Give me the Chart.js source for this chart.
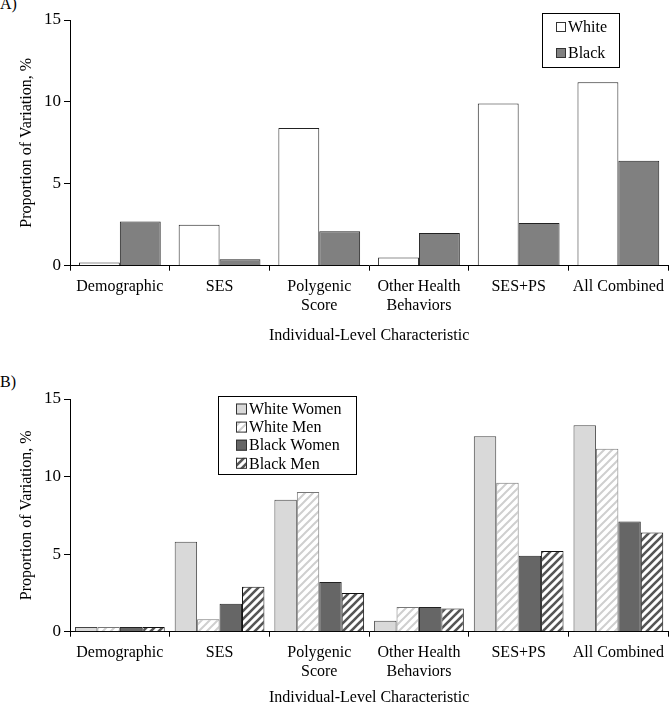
<!DOCTYPE html>
<html>
<head>
<meta charset="utf-8">
<script src="https://cdn.jsdelivr.net/npm/chart.js@4"></script>
<style>
    body { margin: 0; background: #fff; overflow: hidden; }
    #wrap { position: relative; width: 671px; height: 705px; }
    canvas { position: absolute; left: 0; }
    .panel { position: absolute; left: 0; font: 16px "Liberation Serif", serif; color: #000; }
</style>
</head>
<body>
<div id="wrap">
    <div class="panel" style="top:-5px">A)</div>
    <canvas id="chartA" width="671" height="350" style="top:0"></canvas>
    <div class="panel" style="top:373px">B)</div>
    <canvas id="chartB" width="671" height="362" style="top:350px"></canvas>
</div>
<script>
const categories = ['Demographic', 'SES', ['Polygenic', 'Score'], ['Other Health', 'Behaviors'], 'SES+PS', 'All Combined'];

// panel A
const white = [0.2, 2.5, 8.4, 0.5, 9.9, 11.2];
const black = [2.7, 0.4, 2.1, 2.0, 2.6, 6.4];

// panel B
const whiteWomen = [0.3, 5.8, 8.5, 0.7, 12.6, 13.3];
const whiteMen = [0.3, 0.8, 9.0, 1.6, 9.6, 11.8];
const blackWomen = [0.3, 1.8, 3.2, 1.6, 4.9, 7.1];
const blackMen = [0.3, 2.9, 2.5, 1.5, 5.2, 6.4];

const yTicks = [0, 5, 10, 15];

const serif = '"Liberation Serif", "Times New Roman", serif';

// diagonal stripes going up to the right
function makeHatch(color, lineWidth) {
    var c = document.createElement('canvas');
    c.width = 8;
    c.height = 8;
    var g = c.getContext('2d');
    g.fillStyle = '#fff';
    g.fillRect(0, 0, 8, 8);
    g.strokeStyle = color;
    g.lineWidth = lineWidth;
    g.beginPath();
    g.moveTo(-2, 10); g.lineTo(10, -2);
    g.moveTo(-4, 4); g.lineTo(4, -4);
    g.moveTo(4, 12); g.lineTo(12, 4);
    g.stroke();
    return g.createPattern(c, 'repeat');
}

// legend with a box around it, placed by hand
const boxLegend = {
    id: 'boxLegend',
    afterDraw(chart, args, opts) {
        const ctx = chart.ctx;
        ctx.save();
        ctx.strokeStyle = '#000';
        ctx.lineWidth = 1;
        ctx.strokeRect(opts.x + 0.5, opts.y + 0.5, opts.w, opts.h);
        ctx.font = '16px ' + serif;
        ctx.textBaseline = 'middle';
        ctx.fillStyle = '#000';
        chart.data.datasets.forEach((ds, i) => {
            const cy = opts.firstRow + i * opts.rowH;
            const s = opts.box;
            ctx.fillStyle = ds.backgroundColor;
            ctx.fillRect(opts.boxX, cy - s / 2, s, s);
            ctx.strokeStyle = '#333';
            ctx.strokeRect(opts.boxX + 0.5, cy - s / 2 + 0.5, s - 1, s - 1);
            ctx.fillStyle = '#000';
            ctx.fillText(ds.label, opts.boxX + s + 2, cy + 1);
        });
        ctx.restore();
    }
};

function makeOptions(catPct, xHeight, topPad, legendOpts) {
    return {
        responsive: false,
        maintainAspectRatio: false,
        animation: false,
        layout: { padding: { top: topPad, right: 1, left: 0, bottom: 0 } },
        datasets: { bar: { categoryPercentage: catPct, barPercentage: 1 } },
        plugins: {
            legend: { display: false },
            tooltip: { enabled: false },
            boxLegend: legendOpts
        },
        scales: {
            x: {
                offset: true,
                afterFit: function (scale) { scale.height = xHeight; },
                grid: { offset: true, drawOnChartArea: false, tickLength: 5, color: '#000' },
                border: { color: '#000' },
                ticks: {
                    padding: 7,
                    color: '#000',
                    maxRotation: 0,
                    autoSkip: false,
                    font: { family: serif, size: 16, lineHeight: 1.15 }
                },
                title: {
                    display: true,
                    text: 'Individual-Level Characteristic',
                    color: '#000',
                    padding: { top: 0, bottom: 5 },
                    font: { family: serif, size: 16, lineHeight: 1.2 }
                }
            },
            y: {
                min: 0,
                max: 15,
                afterFit: function (scale) { scale.width = 70; },
                afterBuildTicks: function (scale) { scale.ticks = yTicks.map(v => ({ value: v })); },
                grid: { drawOnChartArea: false, tickLength: 6, color: '#000' },
                border: { color: '#000' },
                ticks: {
                    padding: 3,
                    color: '#000',
                    font: { family: serif, size: 17 }
                },
                title: {
                    display: true,
                    text: 'Proportion of Variation, %',
                    color: '#000',
                    padding: { top: 17, bottom: 0 },
                    font: { family: serif, size: 16, lineHeight: 1.2 }
                }
            }
        }
    };
}

document.addEventListener('DOMContentLoaded', function () {
    new Chart(document.getElementById('chartA').getContext('2d'), {
        type: 'bar',
        data: {
            labels: categories,
            datasets: [
                { label: 'White', data: white, backgroundColor: '#ffffff', borderColor: '#222', borderWidth: 1 },
                { label: 'Black', data: black, backgroundColor: '#808080', borderColor: '#222', borderWidth: 1 }
            ]
        },
        options: makeOptions(0.82, 84.3, 20, {
            x: 542, y: 13, w: 77, h: 54, boxX: 556, box: 10, firstRow: 27, rowH: 26
        }),
        plugins: [boxLegend]
    });

    new Chart(document.getElementById('chartB').getContext('2d'), {
        type: 'bar',
        data: {
            labels: categories,
            datasets: [
                { label: 'White Women', data: whiteWomen, backgroundColor: '#d9d9d9', borderColor: '#444', borderWidth: 1 },
                { label: 'White Men', data: whiteMen, backgroundColor: makeHatch('#cfcfcf', 2), borderColor: '#777', borderWidth: 1 },
                { label: 'Black Women', data: blackWomen, backgroundColor: '#666666', borderColor: '#222', borderWidth: 1 },
                { label: 'Black Men', data: blackMen, backgroundColor: makeHatch('#555555', 2.6), borderColor: '#111', borderWidth: 1 }
            ]
        },
        options: makeOptions(0.9, 80.3, 49, {
            x: 218, y: 46, w: 138, h: 78, boxX: 236, box: 11, firstRow: 59, rowH: 18.1
        }),
        plugins: [boxLegend]
    });
});
</script>
</body>
</html>
